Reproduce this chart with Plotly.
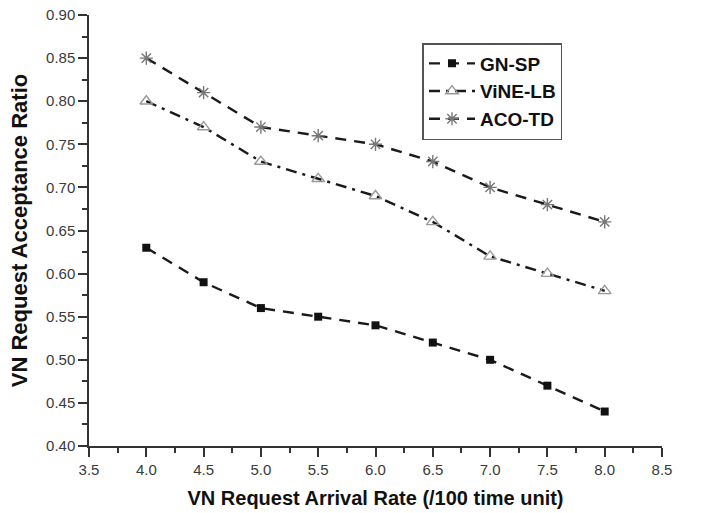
import plotly.graph_objects as go

arrival_rate = [4.0, 4.5, 5.0, 5.5, 6.0, 6.5, 7.0, 7.5, 8.0]
gn_sp = [0.63, 0.59, 0.56, 0.55, 0.54, 0.52, 0.50, 0.47, 0.44]
vine_lb = [0.80, 0.77, 0.73, 0.71, 0.69, 0.66, 0.62, 0.60, 0.58]
aco_td = [0.85, 0.81, 0.77, 0.76, 0.75, 0.73, 0.70, 0.68, 0.66]

series = [
    ("GN-SP", gn_sp, "11px,8px", dict(symbol="square", size=8, color="#111111")),
    ("ViNE-LB", vine_lb, "11px,6px,3px,6px", dict(symbol="triangle-up-open", size=11,
                                                  color="#999999", line=dict(width=1.4, color="#999999"))),
    ("ACO-TD", aco_td, "11px,8px", dict(symbol="asterisk-open", size=11,
                                         color="#777777", line=dict(width=1.4, color="#777777"))),
]

fig = go.Figure()
for name, vals, dash, marker in series:
    fig.add_trace(go.Scatter(
        x=arrival_rate, y=vals, name="<b>" + name + "</b>", mode="lines+markers",
        line=dict(color="#1a1a1a", width=2.4, dash=dash),
        marker=marker,
    ))

axis_font = dict(family="Liberation Sans, Arial, sans-serif", size=15, color="#3a3a3a")

fig.update_layout(
    width=702, height=513,
    margin=dict(l=89, r=40, t=15, b=67),
    paper_bgcolor="white", plot_bgcolor="white",
    showlegend=True,
    legend=dict(
        x=0.582, y=0.935, xanchor="left", yanchor="top",
        bordercolor="#555555", borderwidth=1.5, bgcolor="white",
        font=dict(family="Liberation Sans, Arial, sans-serif", size=19, color="#111111"),
        itemwidth=46, tracegroupgap=0,
    ),
    xaxis=dict(
        range=[3.5, 8.5], dtick=0.5, tickformat=".1f", automargin=False,
        showgrid=False, zeroline=False, showline=True, linecolor="#333333", linewidth=1.5,
        ticks="outside", ticklen=9, tickwidth=1.5, tickcolor="#333333",
        minor=dict(ticks="outside", ticklen=5, dtick=0.25, tickcolor="#333333"),
        tickfont=axis_font,
        title=dict(text="<b>VN Request Arrival Rate (/100 time unit)</b>",
                   font=dict(family="Liberation Sans, Arial, sans-serif", size=20, color="#111111"),
                   standoff=14),
    ),
    yaxis=dict(
        range=[0.40, 0.90], dtick=0.05, tickformat=".2f", automargin=False,
        showgrid=False, zeroline=False, showline=True, linecolor="#333333", linewidth=1.5,
        ticks="outside", ticklen=9, tickwidth=1.5, tickcolor="#333333",
        minor=dict(ticks="outside", ticklen=5, dtick=0.025, tickcolor="#333333"),
        tickfont=axis_font,
        title=dict(text="<b>VN Request Acceptance Ratio</b>",
                   font=dict(family="Liberation Sans, Arial, sans-serif", size=22, color="#111111"),
                   standoff=12),
    ),
)

fig.write_html("out.html")
